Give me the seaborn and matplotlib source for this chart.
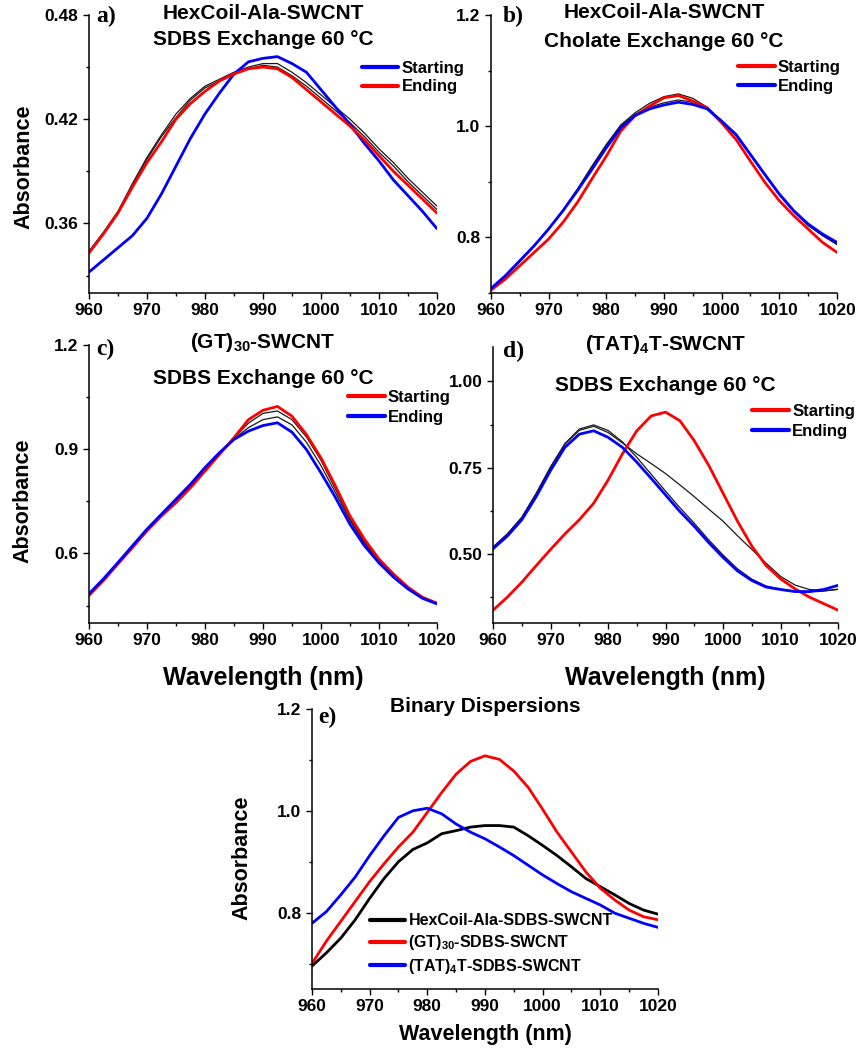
import matplotlib
matplotlib.use("Agg")
import matplotlib.pyplot as plt
import seaborn as sns
from matplotlib.ticker import MultipleLocator, FormatStrFormatter

# wavelength grid (nm)
wavelength = [960, 962.5, 965, 967.5, 970, 972.5, 975, 977.5, 980, 982.5, 985, 987.5,
              990, 992.5, 995, 997.5, 1000, 1002.5, 1005, 1007.5, 1010, 1012.5, 1015, 1017.5, 1020]

# a) HexCoil-Ala-SWCNT, SDBS exchange
a_start = [0.332, 0.339, 0.346, 0.353, 0.363, 0.377, 0.393, 0.409, 0.423, 0.435, 0.446, 0.453,
           0.455, 0.456, 0.452, 0.447, 0.437, 0.427, 0.417, 0.406, 0.396, 0.385, 0.376, 0.367, 0.357]
a_end = [0.343, 0.354, 0.366, 0.381, 0.395, 0.407, 0.420, 0.429, 0.436, 0.442, 0.446, 0.449,
         0.450, 0.449, 0.444, 0.437, 0.430, 0.423, 0.416, 0.408, 0.399, 0.390, 0.382, 0.374, 0.366]
a_mid1 = [0.344, 0.355, 0.367, 0.383, 0.398, 0.411, 0.423, 0.432, 0.439, 0.443, 0.447, 0.450,
          0.452, 0.452, 0.447, 0.441, 0.434, 0.427, 0.420, 0.412, 0.403, 0.395, 0.386, 0.378, 0.370]
a_mid2 = [0.344, 0.354, 0.366, 0.382, 0.397, 0.410, 0.421, 0.431, 0.438, 0.442, 0.446, 0.449,
          0.451, 0.450, 0.445, 0.439, 0.432, 0.425, 0.418, 0.410, 0.401, 0.393, 0.384, 0.376, 0.368]

# b) HexCoil-Ala-SWCNT, cholate exchange
b_start = [0.705, 0.725, 0.749, 0.773, 0.797, 0.827, 0.863, 0.905, 0.946, 0.991, 1.019, 1.036,
           1.051, 1.055, 1.045, 1.033, 1.006, 0.976, 0.937, 0.899, 0.866, 0.839, 0.815, 0.791, 0.773]
b_end = [0.708, 0.731, 0.758, 0.785, 0.815, 0.848, 0.884, 0.922, 0.961, 0.997, 1.019, 1.031,
         1.038, 1.043, 1.039, 1.031, 1.009, 0.985, 0.949, 0.913, 0.878, 0.848, 0.824, 0.806, 0.791]
b_mid1 = [0.706, 0.729, 0.756, 0.784, 0.815, 0.849, 0.887, 0.928, 0.967, 1.002, 1.024, 1.041,
          1.053, 1.058, 1.050, 1.034, 1.008, 0.983, 0.948, 0.912, 0.876, 0.846, 0.821, 0.803, 0.787]
b_mid2 = [0.706, 0.730, 0.757, 0.785, 0.815, 0.849, 0.886, 0.926, 0.965, 1.000, 1.021, 1.034,
          1.042, 1.047, 1.043, 1.033, 1.010, 0.985, 0.950, 0.914, 0.878, 0.848, 0.823, 0.804, 0.788]

# c) (GT)30-SWCNT, SDBS exchange
c_start = [0.479, 0.522, 0.570, 0.617, 0.665, 0.708, 0.746, 0.789, 0.837, 0.885, 0.933, 0.985,
           1.012, 1.023, 0.995, 0.942, 0.875, 0.794, 0.708, 0.641, 0.584, 0.541, 0.503, 0.474, 0.457]
c_end = [0.484, 0.527, 0.574, 0.622, 0.670, 0.713, 0.756, 0.799, 0.847, 0.890, 0.928, 0.952,
         0.968, 0.976, 0.949, 0.899, 0.832, 0.761, 0.684, 0.622, 0.573, 0.532, 0.498, 0.471, 0.455]
c_mid1 = [0.481, 0.524, 0.572, 0.620, 0.668, 0.711, 0.751, 0.794, 0.842, 0.888, 0.932, 0.975,
          1.003, 1.010, 0.985, 0.935, 0.868, 0.785, 0.700, 0.634, 0.578, 0.536, 0.500, 0.472, 0.456]
c_mid2 = [0.481, 0.524, 0.572, 0.620, 0.668, 0.711, 0.751, 0.794, 0.842, 0.888, 0.930, 0.962,
          0.985, 0.993, 0.970, 0.920, 0.853, 0.775, 0.695, 0.630, 0.576, 0.535, 0.500, 0.472, 0.456]

# d) (TAT)4T-SWCNT, SDBS exchange
d_start = [0.337, 0.375, 0.418, 0.466, 0.513, 0.558, 0.599, 0.647, 0.714, 0.790, 0.857, 0.900,
           0.911, 0.886, 0.828, 0.757, 0.676, 0.595, 0.523, 0.466, 0.428, 0.399, 0.375, 0.356, 0.337]
d_end = [0.515, 0.552, 0.599, 0.666, 0.742, 0.809, 0.847, 0.857, 0.838, 0.809, 0.766, 0.719,
         0.671, 0.623, 0.580, 0.533, 0.490, 0.451, 0.423, 0.404, 0.397, 0.391, 0.391, 0.397, 0.409]
d_mid1 = [0.520, 0.558, 0.606, 0.675, 0.752, 0.820, 0.862, 0.874, 0.858, 0.825, 0.780, 0.731,
          0.682, 0.634, 0.589, 0.541, 0.497, 0.457, 0.427, 0.407, 0.398, 0.392, 0.390, 0.392, 0.398]
d_mid2 = [0.520, 0.558, 0.606, 0.675, 0.752, 0.818, 0.858, 0.870, 0.852, 0.822, 0.790, 0.762,
          0.733, 0.700, 0.666, 0.630, 0.595, 0.553, 0.513, 0.473, 0.435, 0.410, 0.397, 0.394, 0.397]

# e) binary dispersions
e_hex = [0.695, 0.721, 0.750, 0.786, 0.828, 0.867, 0.900, 0.924, 0.937, 0.955, 0.961, 0.968,
         0.971, 0.971, 0.968, 0.951, 0.932, 0.912, 0.890, 0.867, 0.851, 0.835, 0.818, 0.805, 0.797]
e_gt = [0.700, 0.744, 0.783, 0.822, 0.861, 0.896, 0.929, 0.958, 0.997, 1.036, 1.072, 1.097,
        1.108, 1.101, 1.078, 1.046, 1.003, 0.958, 0.919, 0.880, 0.848, 0.825, 0.805, 0.792, 0.786]
e_tat = [0.779, 0.802, 0.835, 0.870, 0.912, 0.951, 0.987, 1.000, 1.005, 0.994, 0.974, 0.958,
         0.945, 0.929, 0.912, 0.893, 0.874, 0.857, 0.841, 0.828, 0.815, 0.799, 0.789, 0.779, 0.771]

BLUE = "#0000ff"
RED = "#ff0000"

sns.set_style("ticks")
plt.rcParams["font.family"] = ["Liberation Sans", "DejaVu Sans"]
plt.rcParams["font.weight"] = "bold"
plt.rcParams["mathtext.fontset"] = "custom"
plt.rcParams["mathtext.rm"] = "Liberation Sans:bold"
plt.rcParams["mathtext.default"] = "regular"
for key in ("text.color", "axes.labelcolor", "xtick.color", "ytick.color"):
    plt.rcParams[key] = "black"

fig = plt.figure(figsize=(8.63, 10.5), dpi=100)
ax_a = fig.add_axes([0.1031, 0.7210, 0.4032, 0.2648])
ax_b = fig.add_axes([0.5689, 0.7210, 0.4009, 0.2648])
ax_c = fig.add_axes([0.1031, 0.4067, 0.4032, 0.2648])
ax_d = fig.add_axes([0.5713, 0.4067, 0.3998, 0.2629])
ax_e = fig.add_axes([0.3615, 0.0581, 0.4009, 0.2667])


def style(ax, ylim, major, minor, fmt):
    ax.set_xlim(960, 1020)
    ax.set_ylim(*ylim)
    ax.xaxis.set_major_locator(MultipleLocator(10))
    ax.xaxis.set_minor_locator(MultipleLocator(5))
    ax.yaxis.set_major_locator(MultipleLocator(major))
    ax.yaxis.set_minor_locator(MultipleLocator(minor))
    ax.yaxis.set_major_formatter(FormatStrFormatter(fmt))
    ax.tick_params(which="major", direction="out", length=4.5, width=1, labelsize=12.5, pad=3)
    ax.tick_params(which="minor", direction="out", length=2.5, width=1)
    for lab in ax.get_xticklabels() + ax.get_yticklabels():
        lab.set_fontweight("bold")
    sns.despine(ax=ax)
    for s in ("left", "bottom"):
        ax.spines[s].set_linewidth(1.1)
        ax.spines[s].set_color("black")
    ax.set_xlabel("")
    ax.set_ylabel("")


def draw(ax, mids, series):
    for m in mids:
        sns.lineplot(x=wavelength, y=m, ax=ax, color="#1a1a1a", linewidth=0.9, legend=False)
    handles = []
    for vals, color, label in series:
        line = ax.plot(wavelength, vals, color=color, linewidth=2.0, label=label)[0]
        handles.append(line)
    return handles


def add_legend(ax, handles, x0, y0, spacing=0.2, size=12):
    ax.legend(handles=handles, loc="upper left", bbox_to_anchor=(x0, y0), frameon=False,
              borderpad=0, borderaxespad=0, handlelength=2.2, handletextpad=0.2,
              labelspacing=spacing, prop={"weight": "bold", "size": size})
    for h in ax.get_legend().get_lines():
        h.set_linewidth(3)


def titles(ax, lines, letter, letter_xy):
    for txt, y in lines:
        ax.text(0.5, y, txt, transform=ax.transAxes, ha="center", va="center",
                fontsize=15, fontweight="bold")
    ax.text(letter_xy[0], letter_xy[1], letter, transform=ax.transAxes, ha="left", va="center",
            fontsize=17, fontweight="bold", family="Liberation Serif")


# panel a
h = draw(ax_a, [a_mid1, a_mid2], [(a_start, BLUE, "Starting"), (a_end, RED, "Ending")])
style(ax_a, (0.32, 0.48), 0.06, 0.03, "%.2f")
add_legend(ax_a, h, 0.784, 0.834)
titles(ax_a, [("HexCoil-Ala-SWCNT", 1.004), ("SDBS Exchange 60 °C", 0.912)], "a)", (0.022, 0.993))
ax_a.set_ylabel("Absorbance", fontsize=15.5, fontweight="bold")
ax_a.yaxis.set_label_coords(-0.158, 0.453)

# panel b
h = draw(ax_b, [b_mid1, b_mid2], [(b_start, RED, "Starting"), (b_end, BLUE, "Ending")])
style(ax_b, (0.7, 1.2), 0.2, 0.1, "%.1f")
add_legend(ax_b, h, 0.714, 0.837)
titles(ax_b, [("HexCoil-Ala-SWCNT", 1.008), ("Cholate Exchange 60 °C", 0.905)], "b)", (0.035, 0.993))

# panel c
h = draw(ax_c, [c_mid1, c_mid2], [(c_start, RED, "Starting"), (c_end, BLUE, "Ending")])
style(ax_c, (0.4, 1.2), 0.3, 0.15, "%.1f")
add_legend(ax_c, h, 0.744, 0.837, spacing=0.3)
titles(ax_c, [("(GT)$_{30}$-SWCNT", 1.007), ("SDBS Exchange 60 °C", 0.881)], "c)", (0.022, 0.982))
ax_c.set_ylabel("Absorbance", fontsize=15.5, fontweight="bold")
ax_c.yaxis.set_label_coords(-0.16, 0.44)
ax_c.set_xlabel("Wavelength (nm)", fontsize=18, fontweight="bold")
ax_c.xaxis.set_label_coords(0.5, -0.155)

# panel d
h = draw(ax_d, [d_mid1, d_mid2], [(d_start, RED, "Starting"), (d_end, BLUE, "Ending")])
style(ax_d, (0.3, 1.1), 0.25, 0.125, "%.2f")
add_legend(ax_d, h, 0.751, 0.795, spacing=0.3)
titles(ax_d, [("(TAT)$_4$T-SWCNT", 1.007), ("SDBS Exchange 60 °C", 0.859)], "d)", (0.029, 0.982))
ax_d.set_xlabel("Wavelength (nm)", fontsize=18, fontweight="bold")
ax_d.xaxis.set_label_coords(0.5, -0.155)

# panel e
h = draw(ax_e, [], [(e_hex, "black", "HexCoil-Ala-SDBS-SWCNT"),
                    (e_gt, RED, "(GT)$_{30}$-SDBS-SWCNT"),
                    (e_tat, BLUE, "(TAT)$_4$T-SDBS-SWCNT")])
style(ax_e, (0.65, 1.2), 0.2, 0.1, "%.1f")
add_legend(ax_e, h, 0.168, 0.27, spacing=0.3, size=11.5)
titles(ax_e, [("Binary Dispersions", 1.007)], "e)", (0.017, 0.971))
ax_e.set_ylabel("Absorbance", fontsize=15.5, fontweight="bold")
ax_e.yaxis.set_label_coords(-0.171, 0.47)
ax_e.set_xlabel("Wavelength (nm)", fontsize=15.5, fontweight="bold")
ax_e.xaxis.set_label_coords(0.5, -0.125)

fig.savefig("out.png", dpi=100, facecolor="white")
